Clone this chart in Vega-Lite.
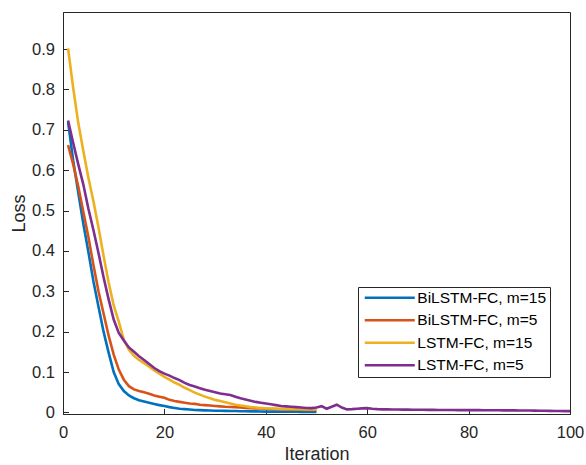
{
  "$schema": "https://vega.github.io/schema/vega-lite/v6.json",
  "width": 507,
  "height": 402,
  "autosize": {"type": "none"},
  "padding": {"left": 63, "top": 12, "right": 16, "bottom": 51},
  "background": "white",
  "config": {
    "font": "Liberation Sans",
    "view": {"stroke": "#262626", "strokeWidth": 1},
    "axis": {
      "grid": false,
      "domainColor": "#262626",
      "tickColor": "#262626",
      "tickSize": -5.5,
      "labelColor": "#262626",
      "titleColor": "#262626",
      "labelFontSize": 16.5,
      "titleFontSize": 18,
      "titleFontWeight": "normal",
      "labelFont": "Liberation Sans",
      "titleFont": "Liberation Sans",
      "labelFlush": false
    }
  },
  "data": {
    "values": [
      {"it": 1, "BiLSTM-FC, m=15": 0.719, "BiLSTM-FC, m=5": 0.662, "LSTM-FC, m=15": 0.902, "LSTM-FC, m=5": 0.723},
      {"it": 2, "BiLSTM-FC, m=15": 0.625, "BiLSTM-FC, m=5": 0.615, "LSTM-FC, m=15": 0.805, "LSTM-FC, m=5": 0.668},
      {"it": 3, "BiLSTM-FC, m=15": 0.545, "BiLSTM-FC, m=5": 0.56, "LSTM-FC, m=15": 0.718, "LSTM-FC, m=5": 0.615},
      {"it": 4, "BiLSTM-FC, m=15": 0.468, "BiLSTM-FC, m=5": 0.498, "LSTM-FC, m=15": 0.648, "LSTM-FC, m=5": 0.565},
      {"it": 5, "BiLSTM-FC, m=15": 0.398, "BiLSTM-FC, m=5": 0.435, "LSTM-FC, m=15": 0.582, "LSTM-FC, m=5": 0.505},
      {"it": 6, "BiLSTM-FC, m=15": 0.325, "BiLSTM-FC, m=5": 0.365, "LSTM-FC, m=15": 0.523, "LSTM-FC, m=5": 0.452},
      {"it": 7, "BiLSTM-FC, m=15": 0.262, "BiLSTM-FC, m=5": 0.3, "LSTM-FC, m=15": 0.458, "LSTM-FC, m=5": 0.395},
      {"it": 8, "BiLSTM-FC, m=15": 0.2, "BiLSTM-FC, m=5": 0.245, "LSTM-FC, m=15": 0.388, "LSTM-FC, m=5": 0.335},
      {"it": 9, "BiLSTM-FC, m=15": 0.148, "BiLSTM-FC, m=5": 0.19, "LSTM-FC, m=15": 0.322, "LSTM-FC, m=5": 0.28},
      {"it": 10, "BiLSTM-FC, m=15": 0.1, "BiLSTM-FC, m=5": 0.143, "LSTM-FC, m=15": 0.265, "LSTM-FC, m=5": 0.23},
      {"it": 11, "BiLSTM-FC, m=15": 0.07, "BiLSTM-FC, m=5": 0.106, "LSTM-FC, m=15": 0.225, "LSTM-FC, m=5": 0.197},
      {"it": 12, "BiLSTM-FC, m=15": 0.053, "BiLSTM-FC, m=5": 0.081, "LSTM-FC, m=15": 0.18, "LSTM-FC, m=5": 0.178},
      {"it": 13, "BiLSTM-FC, m=15": 0.042, "BiLSTM-FC, m=5": 0.065, "LSTM-FC, m=15": 0.155, "LSTM-FC, m=5": 0.161},
      {"it": 14, "BiLSTM-FC, m=15": 0.035, "BiLSTM-FC, m=5": 0.057, "LSTM-FC, m=15": 0.14, "LSTM-FC, m=5": 0.15},
      {"it": 15, "BiLSTM-FC, m=15": 0.03, "BiLSTM-FC, m=5": 0.053, "LSTM-FC, m=15": 0.13, "LSTM-FC, m=5": 0.139},
      {"it": 16, "BiLSTM-FC, m=15": 0.027, "BiLSTM-FC, m=5": 0.05, "LSTM-FC, m=15": 0.122, "LSTM-FC, m=5": 0.13},
      {"it": 17, "BiLSTM-FC, m=15": 0.024, "BiLSTM-FC, m=5": 0.046, "LSTM-FC, m=15": 0.113, "LSTM-FC, m=5": 0.12},
      {"it": 18, "BiLSTM-FC, m=15": 0.021, "BiLSTM-FC, m=5": 0.042, "LSTM-FC, m=15": 0.104, "LSTM-FC, m=5": 0.11},
      {"it": 19, "BiLSTM-FC, m=15": 0.018, "BiLSTM-FC, m=5": 0.039, "LSTM-FC, m=15": 0.096, "LSTM-FC, m=5": 0.102},
      {"it": 20, "BiLSTM-FC, m=15": 0.016, "BiLSTM-FC, m=5": 0.036, "LSTM-FC, m=15": 0.088, "LSTM-FC, m=5": 0.096},
      {"it": 21, "BiLSTM-FC, m=15": 0.013, "BiLSTM-FC, m=5": 0.031, "LSTM-FC, m=15": 0.081, "LSTM-FC, m=5": 0.091},
      {"it": 22, "BiLSTM-FC, m=15": 0.011, "BiLSTM-FC, m=5": 0.028, "LSTM-FC, m=15": 0.074, "LSTM-FC, m=5": 0.085},
      {"it": 23, "BiLSTM-FC, m=15": 0.009, "BiLSTM-FC, m=5": 0.026, "LSTM-FC, m=15": 0.068, "LSTM-FC, m=5": 0.08},
      {"it": 24, "BiLSTM-FC, m=15": 0.008, "BiLSTM-FC, m=5": 0.024, "LSTM-FC, m=15": 0.061, "LSTM-FC, m=5": 0.073},
      {"it": 25, "BiLSTM-FC, m=15": 0.007, "BiLSTM-FC, m=5": 0.022, "LSTM-FC, m=15": 0.055, "LSTM-FC, m=5": 0.068},
      {"it": 26, "BiLSTM-FC, m=15": 0.006, "BiLSTM-FC, m=5": 0.021, "LSTM-FC, m=15": 0.049, "LSTM-FC, m=5": 0.064},
      {"it": 27, "BiLSTM-FC, m=15": 0.0055, "BiLSTM-FC, m=5": 0.019, "LSTM-FC, m=15": 0.044, "LSTM-FC, m=5": 0.06},
      {"it": 28, "BiLSTM-FC, m=15": 0.005, "BiLSTM-FC, m=5": 0.018, "LSTM-FC, m=15": 0.039, "LSTM-FC, m=5": 0.056},
      {"it": 29, "BiLSTM-FC, m=15": 0.0046, "BiLSTM-FC, m=5": 0.017, "LSTM-FC, m=15": 0.035, "LSTM-FC, m=5": 0.053},
      {"it": 30, "BiLSTM-FC, m=15": 0.0042, "BiLSTM-FC, m=5": 0.016, "LSTM-FC, m=15": 0.031, "LSTM-FC, m=5": 0.05},
      {"it": 31, "BiLSTM-FC, m=15": 0.004, "BiLSTM-FC, m=5": 0.015, "LSTM-FC, m=15": 0.028, "LSTM-FC, m=5": 0.047},
      {"it": 32, "BiLSTM-FC, m=15": 0.0037, "BiLSTM-FC, m=5": 0.014, "LSTM-FC, m=15": 0.025, "LSTM-FC, m=5": 0.045},
      {"it": 33, "BiLSTM-FC, m=15": 0.0035, "BiLSTM-FC, m=5": 0.0135, "LSTM-FC, m=15": 0.022, "LSTM-FC, m=5": 0.043},
      {"it": 34, "BiLSTM-FC, m=15": 0.0033, "BiLSTM-FC, m=5": 0.013, "LSTM-FC, m=15": 0.019, "LSTM-FC, m=5": 0.039},
      {"it": 35, "BiLSTM-FC, m=15": 0.003, "BiLSTM-FC, m=5": 0.012, "LSTM-FC, m=15": 0.017, "LSTM-FC, m=5": 0.035},
      {"it": 36, "BiLSTM-FC, m=15": 0.0028, "BiLSTM-FC, m=5": 0.011, "LSTM-FC, m=15": 0.015, "LSTM-FC, m=5": 0.032},
      {"it": 37, "BiLSTM-FC, m=15": 0.0026, "BiLSTM-FC, m=5": 0.0105, "LSTM-FC, m=15": 0.013, "LSTM-FC, m=5": 0.029},
      {"it": 38, "BiLSTM-FC, m=15": 0.0024, "BiLSTM-FC, m=5": 0.01, "LSTM-FC, m=15": 0.012, "LSTM-FC, m=5": 0.026},
      {"it": 39, "BiLSTM-FC, m=15": 0.0022, "BiLSTM-FC, m=5": 0.0095, "LSTM-FC, m=15": 0.011, "LSTM-FC, m=5": 0.024},
      {"it": 40, "BiLSTM-FC, m=15": 0.002, "BiLSTM-FC, m=5": 0.009, "LSTM-FC, m=15": 0.01, "LSTM-FC, m=5": 0.022},
      {"it": 41, "BiLSTM-FC, m=15": 0.0019, "BiLSTM-FC, m=5": 0.0085, "LSTM-FC, m=15": 0.0097, "LSTM-FC, m=5": 0.02},
      {"it": 42, "BiLSTM-FC, m=15": 0.0018, "BiLSTM-FC, m=5": 0.008, "LSTM-FC, m=15": 0.0094, "LSTM-FC, m=5": 0.018},
      {"it": 43, "BiLSTM-FC, m=15": 0.0017, "BiLSTM-FC, m=5": 0.0078, "LSTM-FC, m=15": 0.009, "LSTM-FC, m=5": 0.016},
      {"it": 44, "BiLSTM-FC, m=15": 0.0016, "BiLSTM-FC, m=5": 0.0075, "LSTM-FC, m=15": 0.0087, "LSTM-FC, m=5": 0.015},
      {"it": 45, "BiLSTM-FC, m=15": 0.0015, "BiLSTM-FC, m=5": 0.007, "LSTM-FC, m=15": 0.0084, "LSTM-FC, m=5": 0.014},
      {"it": 46, "BiLSTM-FC, m=15": 0.0014, "BiLSTM-FC, m=5": 0.0068, "LSTM-FC, m=15": 0.008, "LSTM-FC, m=5": 0.013},
      {"it": 47, "BiLSTM-FC, m=15": 0.0013, "BiLSTM-FC, m=5": 0.0065, "LSTM-FC, m=15": 0.0078, "LSTM-FC, m=5": 0.012},
      {"it": 48, "BiLSTM-FC, m=15": 0.0012, "BiLSTM-FC, m=5": 0.0062, "LSTM-FC, m=15": 0.0075, "LSTM-FC, m=5": 0.011},
      {"it": 49, "BiLSTM-FC, m=15": 0.0011, "BiLSTM-FC, m=5": 0.006, "LSTM-FC, m=15": 0.0073, "LSTM-FC, m=5": 0.0105},
      {"it": 50, "BiLSTM-FC, m=15": 0.001, "BiLSTM-FC, m=5": 0.0058, "LSTM-FC, m=15": 0.0072, "LSTM-FC, m=5": 0.012},
      {"it": 51, "LSTM-FC, m=5": 0.0155},
      {"it": 52, "LSTM-FC, m=5": 0.009},
      {"it": 53, "LSTM-FC, m=5": 0.014},
      {"it": 54, "LSTM-FC, m=5": 0.019},
      {"it": 55, "LSTM-FC, m=5": 0.012},
      {"it": 56, "LSTM-FC, m=5": 0.0075},
      {"it": 57, "LSTM-FC, m=5": 0.008},
      {"it": 58, "LSTM-FC, m=5": 0.009},
      {"it": 59, "LSTM-FC, m=5": 0.01},
      {"it": 60, "LSTM-FC, m=5": 0.0105},
      {"it": 61, "LSTM-FC, m=5": 0.009},
      {"it": 62, "LSTM-FC, m=5": 0.008},
      {"it": 63, "LSTM-FC, m=5": 0.0075},
      {"it": 64, "LSTM-FC, m=5": 0.0075},
      {"it": 65, "LSTM-FC, m=5": 0.007},
      {"it": 66, "LSTM-FC, m=5": 0.0072},
      {"it": 67, "LSTM-FC, m=5": 0.0068},
      {"it": 68, "LSTM-FC, m=5": 0.0068},
      {"it": 69, "LSTM-FC, m=5": 0.0066},
      {"it": 70, "LSTM-FC, m=5": 0.0066},
      {"it": 71, "LSTM-FC, m=5": 0.0064},
      {"it": 72, "LSTM-FC, m=5": 0.0063},
      {"it": 73, "LSTM-FC, m=5": 0.0062},
      {"it": 74, "LSTM-FC, m=5": 0.006},
      {"it": 75, "LSTM-FC, m=5": 0.006},
      {"it": 76, "LSTM-FC, m=5": 0.0058},
      {"it": 77, "LSTM-FC, m=5": 0.0058},
      {"it": 78, "LSTM-FC, m=5": 0.0057},
      {"it": 79, "LSTM-FC, m=5": 0.0057},
      {"it": 80, "LSTM-FC, m=5": 0.0056},
      {"it": 81, "LSTM-FC, m=5": 0.0055},
      {"it": 82, "LSTM-FC, m=5": 0.0055},
      {"it": 83, "LSTM-FC, m=5": 0.0054},
      {"it": 84, "LSTM-FC, m=5": 0.0053},
      {"it": 85, "LSTM-FC, m=5": 0.0053},
      {"it": 86, "LSTM-FC, m=5": 0.0052},
      {"it": 87, "LSTM-FC, m=5": 0.0051},
      {"it": 88, "LSTM-FC, m=5": 0.005},
      {"it": 89, "LSTM-FC, m=5": 0.005},
      {"it": 90, "LSTM-FC, m=5": 0.0048},
      {"it": 91, "LSTM-FC, m=5": 0.0046},
      {"it": 92, "LSTM-FC, m=5": 0.0045},
      {"it": 93, "LSTM-FC, m=5": 0.0043},
      {"it": 94, "LSTM-FC, m=5": 0.0041},
      {"it": 95, "LSTM-FC, m=5": 0.004},
      {"it": 96, "LSTM-FC, m=5": 0.0038},
      {"it": 97, "LSTM-FC, m=5": 0.0036},
      {"it": 98, "LSTM-FC, m=5": 0.0034},
      {"it": 99, "LSTM-FC, m=5": 0.0032},
      {"it": 100, "LSTM-FC, m=5": 0.003}
    ]
  },
  "transform": [
    {"fold": ["BiLSTM-FC, m=15", "BiLSTM-FC, m=5", "LSTM-FC, m=15", "LSTM-FC, m=5"], "as": ["series", "loss"]},
    {"filter": "isValid(datum.loss)"}
  ],
  "mark": {"type": "line", "strokeWidth": 2.6, "clip": true},
  "encoding": {
    "x": {
      "field": "it",
      "type": "quantitative",
      "scale": {"domain": [0, 100], "nice": false},
      "axis": {"values": [0, 20, 40, 60, 80, 100], "title": "Iteration", "labelPadding": 15.5, "titlePadding": 4.5}
    },
    "y": {
      "field": "loss",
      "type": "quantitative",
      "scale": {"domain": [-0.004, 0.992], "nice": false, "zero": false},
      "axis": {"values": [0, 0.1, 0.2, 0.3, 0.4, 0.5, 0.6, 0.7, 0.8, 0.9], "format": "~g", "title": "Loss", "labelPadding": 14, "titlePadding": 3}
    },
    "color": {
      "field": "series",
      "type": "nominal",
      "scale": {
        "domain": ["BiLSTM-FC, m=15", "BiLSTM-FC, m=5", "LSTM-FC, m=15", "LSTM-FC, m=5"],
        "range": ["#0072BD", "#D95319", "#EDB120", "#7E2F8E"]
      },
      "legend": {
        "title": null,
        "orient": "none",
        "legendX": 295,
        "legendY": 275,
        "padding": 3,
        "strokeColor": "#262626",
        "fillColor": "white",
        "symbolType": "M-0.667,0H7.667",
        "symbolSize": 144,
        "symbolStrokeWidth": 2.6,
        "labelFontSize": 15.5,
        "labelColor": "#000000",
        "labelFont": "Liberation Sans",
        "labelOffset": 40.8,
        "rowPadding": 5.5
      }
    }
  }
}
